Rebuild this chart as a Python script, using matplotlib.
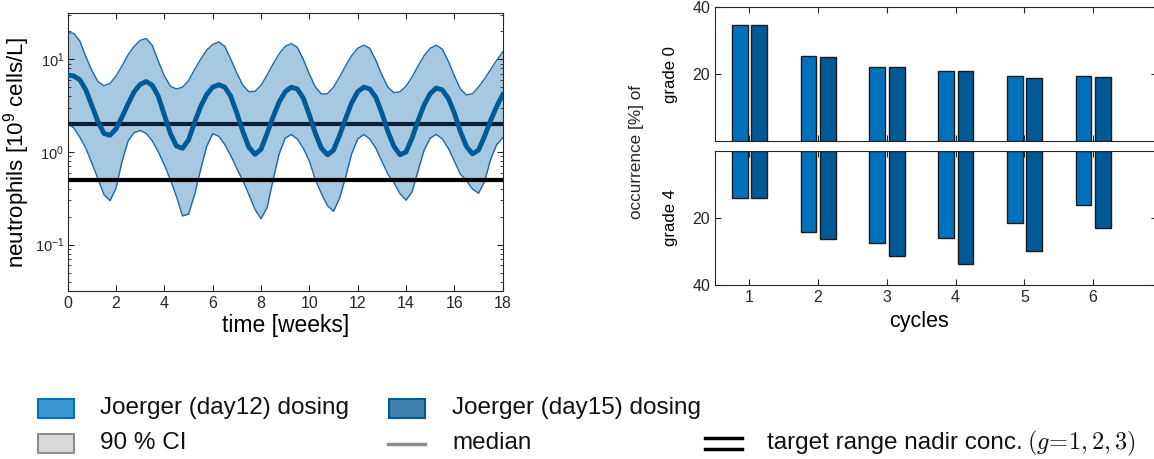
"""
Neutrophil time course under Joerger dosing and grade 0 / grade 4 occurrence per cycle.
"""

import matplotlib

matplotlib.use("Agg")

import matplotlib.pyplot as plt
import numpy as np
from matplotlib.lines import Line2D
from matplotlib.patches import Rectangle

plt.rcParams["font.family"] = ["Liberation Sans", "DejaVu Sans"]
plt.rcParams["mathtext.fontset"] = "custom"
plt.rcParams["mathtext.rm"] = "Liberation Sans"
plt.rcParams["mathtext.it"] = "Liberation Sans:italic"

# sampling times of the simulated course [weeks]
weeks = np.arange(0, 18.25, 0.25)

# log10 of neutrophil counts [10^9 cells/L]
median_log = [
    0.83, 0.82, 0.78, 0.67, 0.50, 0.33, 0.20, 0.18,
    0.25, 0.38, 0.52, 0.65, 0.73, 0.76,
    0.72, 0.60, 0.40, 0.20, 0.065, 0.04,
    0.13, 0.32, 0.49, 0.62, 0.70, 0.725,
    0.70, 0.60, 0.42, 0.22, 0.05, -0.025,
    0.03, 0.20, 0.38, 0.54, 0.65, 0.70,
    0.68, 0.58, 0.40, 0.20, 0.04, -0.03,
    0.02, 0.18, 0.36, 0.53, 0.65, 0.70,
    0.68, 0.59, 0.42, 0.22, 0.06, -0.03,
    0.00, 0.15, 0.34, 0.51, 0.63, 0.69,
    0.67, 0.58, 0.42, 0.22, 0.06, -0.02,
    0.02, 0.17, 0.34, 0.49, 0.62,
]
ci_upper_log = [
    1.29, 1.28, 1.20, 1.03, 0.88, 0.76, 0.715, 0.74,
    0.82, 0.93, 1.05, 1.14, 1.205, 1.225,
    1.15, 0.98, 0.82, 0.71, 0.68, 0.70,
    0.77, 0.89, 1.00, 1.10, 1.16, 1.188,
    1.14, 1.00, 0.85, 0.72, 0.65, 0.655,
    0.72, 0.83, 0.95, 1.06, 1.14, 1.17,
    1.13, 1.00, 0.84, 0.70, 0.625, 0.63,
    0.70, 0.81, 0.93, 1.04, 1.12, 1.153,
    1.12, 0.99, 0.83, 0.70, 0.64, 0.65,
    0.71, 0.81, 0.93, 1.04, 1.12, 1.153,
    1.11, 0.98, 0.82, 0.68, 0.615, 0.63,
    0.70, 0.79, 0.89, 0.99, 1.08,
]
ci_lower_log = [
    0.31, 0.26, 0.16, 0.04, -0.12, -0.29, -0.46, -0.525,
    -0.39, -0.10, 0.12, 0.21, 0.232, 0.20,
    0.12, 0.00, -0.14, -0.30, -0.48, -0.69,
    -0.67, -0.46, -0.19, 0.06, 0.197, 0.17,
    0.08, -0.04, -0.18, -0.31, -0.46, -0.62,
    -0.72, -0.60, -0.30, -0.02, 0.15, 0.19,
    0.14, 0.04, -0.10, -0.30, -0.45, -0.58,
    -0.64, -0.50, -0.27, -0.02, 0.14, 0.19,
    0.14, 0.04, -0.10, -0.24, -0.33, -0.45,
    -0.52, -0.43, -0.20, 0.02, 0.15, 0.19,
    0.14, 0.04, -0.10, -0.24, -0.31, -0.40,
    -0.445, -0.32, -0.08, 0.08, 0.155,
]
target_range = [0.5, 2.0]

# occurrence [%] per treatment cycle
cycles = [1, 2, 3, 4, 5, 6]
grade0_day12 = [34.7, 25.4, 22.2, 20.9, 19.4, 19.45]
grade0_day15 = [34.7, 25.2, 22.1, 20.8, 18.95, 19.05]
grade4_day12 = [14.2, 24.1, 27.6, 26.1, 21.6, 16.2]
grade4_day15 = [14.2, 26.4, 31.4, 33.8, 29.9, 23.1]

DAY12_COLOR = "#0072bd"
DAY15_COLOR = "#005a96"
BAND_COLOR = "#a6c8e0"
EDGE_COLOR = "#1a6aa8"
SPINE_COLOR = "#262626"

FIG_W, FIG_H = 1154, 459


def px_box(left, top, right, bottom):
    return [left / FIG_W, 1 - bottom / FIG_H, (right - left) / FIG_W, (bottom - top) / FIG_H]


def matlab_box(ax, labelsize=11.5):
    for spine in ax.spines.values():
        spine.set_color(SPINE_COLOR)
        spine.set_linewidth(0.8)
    ax.tick_params(which="both", direction="in", top=True, right=True,
                   colors=SPINE_COLOR, labelsize=labelsize)
    ax.tick_params(which="major", length=4)
    ax.tick_params(which="minor", length=2.5)


def plot_course(ax):
    median = 10 ** np.asarray(median_log)
    upper = 10 ** np.asarray(ci_upper_log)
    lower = 10 ** np.asarray(ci_lower_log)

    ax.fill_between(weeks, lower, upper, color=BAND_COLOR, linewidth=0, zorder=1)
    ax.plot(weeks, upper, color=EDGE_COLOR, lw=1.0, zorder=2, solid_joinstyle="round")
    ax.plot(weeks, lower, color=EDGE_COLOR, lw=1.0, zorder=2, solid_joinstyle="round")
    ax.axhline(target_range[1], color="#0b2236", lw=3, zorder=3)
    ax.axhline(target_range[0], color="#000000", lw=3, zorder=3)
    ax.plot(weeks, median, color="#005a98", lw=3.5, zorder=4, solid_joinstyle="round")

    ax.set_yscale("log")
    ax.set_xlim(0, 18)
    ax.set_ylim(10 ** -1.5, 10 ** 1.5)
    ax.set_xticks(range(0, 19, 2))
    ax.set_xlabel("time [weeks]", fontsize=16.5, labelpad=2)
    ax.set_ylabel("neutrophils [10$^9$ cells/L]", fontsize=16)
    ax.yaxis.set_label_coords(-0.083, 0.5)
    matlab_box(ax)
    ax.tick_params(axis="y", labelsize=10.5, pad=2.5)


def plot_grades(ax_top, ax_bottom):
    x = np.asarray(cycles, dtype=float)
    width = 0.23
    bar_kw = dict(width=width, edgecolor="#1a1a1a", linewidth=1.0)

    ax_top.bar(x - 0.14, grade0_day12, color=DAY12_COLOR, **bar_kw)
    ax_top.bar(x + 0.145, grade0_day15, color=DAY15_COLOR, **bar_kw)
    ax_bottom.bar(x - 0.14, grade4_day12, color=DAY12_COLOR, **bar_kw)
    ax_bottom.bar(x + 0.145, grade4_day15, color=DAY15_COLOR, **bar_kw)

    for ax in (ax_top, ax_bottom):
        ax.set_xlim(0.5, 6.93)
        ax.set_xticks(cycles)
        ax.set_yticks([20, 40])
        matlab_box(ax)

    ax_top.set_ylim(0, 40)
    ax_top.tick_params(labelbottom=False)
    ax_bottom.set_ylim(40, 0)
    ax_bottom.set_xlabel("cycles", fontsize=15.5)
    ax_bottom.xaxis.set_label_coords(0.4615, -0.19)

    ax_top.set_ylabel("grade 0", fontsize=12, labelpad=10)
    ax_bottom.set_ylabel("grade 4", fontsize=12, labelpad=10)


def draw_legend(fig):
    def fx(px):
        return px / FIG_W

    def fy(py):
        return 1 - py / FIG_H

    def patch(left, top, face, edge):
        fig.add_artist(Rectangle((fx(left), fy(top + 19)), 36 / FIG_W, 19 / FIG_H,
                                 transform=fig.transFigure, facecolor=face,
                                 edgecolor=edge, linewidth=1.5))

    def hline(left, right, y, color, lw):
        fig.add_artist(Line2D([fx(left), fx(right)], [fy(y), fy(y)],
                              transform=fig.transFigure, color=color, lw=lw))

    text_kw = dict(fontsize=17.5, va="center", ha="left", color="#111111")

    patch(38, 399, "#3d97d3", DAY12_COLOR)
    fig.text(fx(100), fy(408), "Joerger (day12) dosing", **text_kw)
    patch(389, 399, "#3f7fad", DAY15_COLOR)
    fig.text(fx(452), fy(408), "Joerger (day15) dosing", **text_kw)

    patch(38, 434, "#d9d9d9", "#8c8c8c")
    fig.text(fx(100), fy(443), "90 % CI", **text_kw)
    hline(388, 425, 443.5, "#8c8c8c", 2.5)
    fig.text(fx(452), fy(443), "median", **text_kw)

    hline(705, 742, 437.5, "#000000", 2.5)
    hline(705, 742, 449, "#000000", 2.5)
    fig.text(fx(767), fy(443), "target range nadir conc. ", **text_kw)
    fig.text(fx(1136), fy(443), r"$(g\!=\!1, 2, 3)$", math_fontfamily="cm",
             fontsize=17.5, va="center", ha="right", color="#111111")


def main():
    fig = plt.figure(figsize=(FIG_W / 100, FIG_H / 100), dpi=100)

    ax_course = fig.add_axes(px_box(67.7, 13, 502.7, 291))
    ax_grade0 = fig.add_axes(px_box(715, 7.3, 1157, 141))
    ax_grade4 = fig.add_axes(px_box(715, 150.7, 1157, 285))

    plot_course(ax_course)
    plot_grades(ax_grade0, ax_grade4)
    fig.text(636 / FIG_W, 1 - 152 / FIG_H, "occurrence [%] of", rotation=90,
             fontsize=12.3, ha="center", va="center", color=SPINE_COLOR)
    draw_legend(fig)

    fig.savefig("out.png", dpi=100)
    plt.close(fig)


if __name__ == "__main__":
    main()
